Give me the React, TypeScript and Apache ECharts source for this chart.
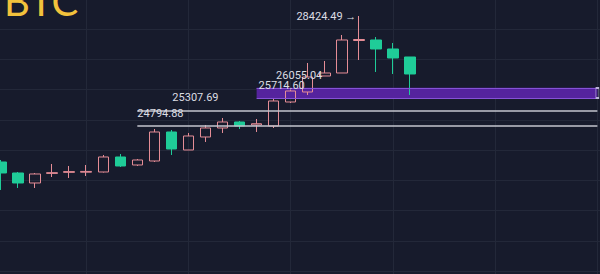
import React, { useEffect, useRef } from "react";
import * as echarts from "echarts";

// ---- data ----
const categories = [
  "D01", "D02", "D03", "D04", "D05", "D06", "D07", "D08", "D09", "D10",
  "D11", "D12", "D13", "D14", "D15", "D16", "D17", "D18", "D19", "D20",
  "D21", "D22", "D23", "D24", "D25", "D26", "D27", "D28", "D29", "D30",
  "D31", "D32", "D33", "D34", "D35", "D36",
];
const opens = [23607, 23244, 22914, 23230, 23265, 23270, 23277, 23772, 23508, 23640, 24597, 24003, 24432, 24729, 24927, 24828, 24795, 25587, 25917, 26445, 26544, 27616, 27633, 27336, 27072];
const closes = [23244, 22914, 23211, 23255, 23290, 23295, 23772, 23475, 23673, 24597, 24036, 24465, 24729, 24927, 24795, 24870, 25620, 25950, 26412, 26544, 27633, 27649, 27336, 27039, 26511];
const lows = [22683, 22749, 22749, 23112, 23079, 23145, 23260, 23442, 23475, 23607, 23838, 24003, 24267, 24564, 24696, 24597, 24729, 25554, 25818, 26445, 26544, 26973, 26577, 26511, 25818];
const highs = [23673, 23277, 23244, 23541, 23475, 23508, 23838, 23871, 23706, 24696, 24663, 24564, 24828, 25059, 24960, 25026, 25719, 26000, 26874, 26940, 27798, 28424.49, 27732, 27534, 27072];

const supportLow = 24794.88;
const supportHigh = 25307.69;
const zoneLow = 25714.6;
const zoneHigh = 26055.04;
const peakValue = 28424.49;
const peakIndex = 21;
const supportStart = 8;
const zoneStart = 15;
const levelEnd = 35;
const gridColumns = [5, 11, 17, 23, 29, 35];

const BG = "#171b2c";
const GRID = "#232839";
const UP = "#e58d96";
const DOWN = "#1fcc98";
const LABEL = "#dcdde3";
const WHITE_LINE = "#c4c6ce";
const ZONE_FILL = "#55239e";
const ZONE_EDGE = "#8552d6";

export default function App() {
  const ref = useRef<HTMLDivElement>(null);
  useEffect(() => {
    document.body.style.margin = "0";
    if (!ref.current) return;
    const chart = echarts.init(ref.current, null, { renderer: "svg" });
    const data = opens.map((o, i) => [o, closes[i], lows[i], highs[i]]);
    const labelBase = {
      show: true,
      position: "insideStartTop",
      color: LABEL,
      fontSize: 11,
      fontFamily: "Roboto",
    };
    const levelLine = (value: number, start: number, dx: number, color: string, width: number) => [
      {
        coord: [start, value],
        lineStyle: { color, width, type: "solid" },
        label: { ...labelBase, formatter: value.toFixed(2), distance: [dx, 7] },
      },
      { coord: [levelEnd, value] },
    ];
    const option: any = {
      animation: false,
      backgroundColor: BG,
      grid: {
        left: -7.5,
        right: -5.9,
        top: -1.43,
        bottom: -27.6,
        containLabel: false,
        outerBoundsMode: "none",
      },
      xAxis: {
        type: "category",
        data: categories,
        boundaryGap: true,
        axisLine: { show: false },
        axisTick: { show: false },
        axisLabel: { show: false },
        splitLine: { show: false },
      },
      yAxis: {
        type: "value",
        min: 19000,
        max: 29000,
        interval: 1000,
        axisLine: { show: false },
        axisTick: { show: false },
        axisLabel: { show: false },
        splitLine: { show: true, lineStyle: { color: GRID, width: 1 } },
      },
      graphic: [
        {
          type: "text",
          x: 4,
          y: 1,
          style: {
            text: "BTC",
            fill: "#f2c23c",
            font: '400 40px "Lato"',
            verticalAlign: "middle",
            align: "left",
          },
        },
      ],
      series: [
        {
          type: "line",
          data: categories.map(() => "-"),
          silent: true,
          z: 0,
          markLine: {
            silent: true,
            z: 0,
            symbol: ["none", "none"],
            label: { show: false },
            lineStyle: { color: GRID, width: 1, type: "solid" },
            data: gridColumns.map((i) => ({ xAxis: i })),
          },
        },
        {
          type: "candlestick",
          data,
          barWidth: 11,
          z: 2,
          itemStyle: {
            color: "transparent",
            color0: DOWN,
            borderColor: UP,
            borderColor0: DOWN,
            borderWidth: 1,
          },
          markArea: {
            silent: true,
            itemStyle: { color: ZONE_FILL, borderWidth: 0 },
            data: [[{ coord: [zoneStart, zoneLow] }, { coord: [levelEnd, zoneHigh] }]],
          },
          markLine: {
            silent: true,
            symbol: ["none", "none"],
            data: [
              levelLine(supportLow, supportStart, 0, WHITE_LINE, 1.5),
              levelLine(supportHigh, supportStart, 35, WHITE_LINE, 1.5),
              levelLine(zoneLow, zoneStart, 2, ZONE_EDGE, 1),
              levelLine(zoneHigh, zoneStart, 19.5, ZONE_EDGE, 1),
            ],
          },
          markPoint: {
            silent: true,
            symbol: "circle",
            symbolSize: 1,
            itemStyle: { color: "transparent" },
            data: [
              {
                coord: [peakIndex, peakValue],
                value: peakValue,
                label: {
                  show: true,
                  position: "left",
                  distance: 2,
                  color: LABEL,
                  fontSize: 11,
                  fontFamily: "Roboto",
                  formatter: peakValue.toFixed(2) + " \u2192",
                },
              },
              {
                coord: [levelEnd, (zoneLow + zoneHigh) / 2],
                symbol: "rect",
                symbolSize: [3, 10],
                itemStyle: { color: "transparent", borderColor: "#b9b2d6", borderWidth: 1 },
                label: { show: false },
              },
            ],
          },
        },
      ],
    };
    chart.setOption(option);
    return () => chart.dispose();
  }, []);
  return (
    <div
      ref={ref}
      style={{ position: "fixed", left: 0, top: 0, width: 600, height: 274, background: BG }}
    />
  );
}
